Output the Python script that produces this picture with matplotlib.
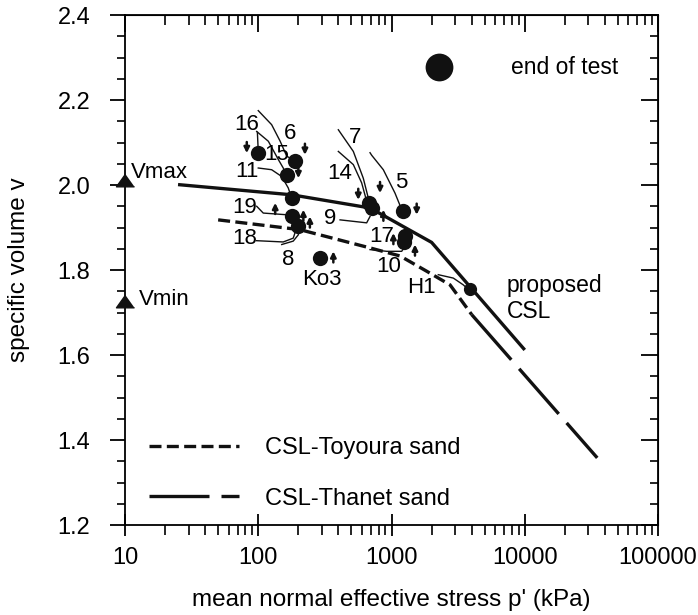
import numpy as np
import matplotlib.pyplot as plt
from matplotlib.lines import Line2D

plt.rcParams['font.family'] = ['Liberation Sans', 'DejaVu Sans']

# critical state lines (p' in kPa, specific volume v)
csl_p = [25, 178, 690, 2000, 10000]
csl_v = [2.001, 1.977, 1.946, 1.865, 1.612]

toyoura_p = [50, 205, 690, 1160, 1840, 2750, 4000]
toyoura_v = [1.918, 1.895, 1.852, 1.833, 1.797, 1.765, 1.695]

thanet_p = [4000, 35000]
thanet_v = [1.695, 1.358]

# end-of-test states
end_p = [100, 189, 163, 178, 178, 200, 291, 675, 715, 1227, 1262, 1250]
end_v = [2.075, 2.056, 2.023, 1.969, 1.926, 1.903, 1.828, 1.958, 1.945, 1.938, 1.881, 1.866]
h1_p, h1_v = 3880, 1.755

# Vmax / Vmin
lim_v = [2.011, 1.727]
lim_names = ['Vmax', 'Vmin']

# stress paths approaching the end states
p16 = [98.5, 100]
v16 = [2.124, 2.079]
p6 = [100, 126, 146, 163.5, 189]
v6 = [2.175, 2.142, 2.103, 2.068, 2.056]
p15 = [97.3, 119, 141.4, 154, 163.5]
v15 = [2.126, 2.103, 2.060, 2.040, 2.023]
p11 = [100, 126, 150, 168, 178]
v11 = [2.040, 2.036, 2.020, 1.993, 1.969]
p19 = [97.3, 109, 163.5, 178]
v19 = [1.950, 1.934, 1.930, 1.926]
p18 = [97.3, 154, 183, 194]
v18 = [1.869, 1.866, 1.875, 1.899]
p8 = [150, 183, 200, 203]
v8 = [1.860, 1.868, 1.883, 1.900]
p7 = [399, 517, 614, 670]
v7 = [2.130, 2.079, 2.016, 1.969]
p14 = [399, 517, 597, 651]
v14 = [2.079, 2.048, 2.005, 1.962]
p5 = [690, 710, 868, 1062, 1193]
v5 = [2.076, 2.070, 2.036, 1.981, 1.942]
p9 = [411, 651, 690]
v9 = [1.918, 1.911, 1.926]
p10 = [690, 921, 1193, 1262]
v10 = [1.848, 1.844, 1.844, 1.856]
pH1 = [2245, 2911, 3459, 3770]
vH1 = [1.789, 1.781, 1.765, 1.754]

# small arrows beside the end states (+1 up, -1 down)
arrow_p = [82, 224, 200, 134, 218, 244, 366, 563, 820, 869, 1545, 1033, 1500]
arrow_v = [2.075, 2.071, 2.016, 1.958, 1.942, 1.926, 1.844, 1.965, 1.981, 1.942, 1.930, 1.887, 1.860]
arrow_dir = [-1, -1, -1, 1, 1, 1, 1, -1, -1, 1, -1, 1, 1]

# test labels
label_text = ['16', '6', '15', '11', '19', '18', '8', 'Ko3', '7', '14', '5', '9', '17', '10', 'H1']
label_p = [82, 173, 137, 82, 79.6, 79.6, 168, 299, 532, 411, 1193, 346, 844, 946, 1685]
label_v = [2.142, 2.122, 2.071, 2.032, 1.946, 1.875, 1.824, 1.777, 2.111, 2.028, 2.005, 1.922, 1.879, 1.809, 1.758]

ink = '#111111'

fig = plt.figure(figsize=(6.98, 6.15), dpi=100)
ax = fig.add_axes([0.1791, 0.1463, 0.7636, 0.8293])

ax.plot(csl_p, csl_v, color=ink, lw=2.4, solid_capstyle='butt')
ax.plot(toyoura_p, toyoura_v, color=ink, lw=2.4, dashes=(3.6, 1.6))
ax.plot(thanet_p, thanet_v, color=ink, lw=2.4, dashes=(18, 3.6))

for pp, vv in [(p16, v16), (p6, v6), (p15, v15), (p11, v11), (p19, v19), (p18, v18),
               (p8, v8), (p7, v7), (p14, v14), (p5, v5), (p9, v9), (p10, v10), (pH1, vH1)]:
    ax.plot(pp, vv, color=ink, lw=1.0)

ax.plot(end_p, end_v, 'o', color=ink, ms=11, mec='none')
ax.plot([h1_p], [h1_v], 'o', color=ink, ms=9.5, mec='none')

tri = [(0, 0.7), (-1, -0.7), (1, -0.7)]
ax.plot([10] * len(lim_v), lim_v, ls='none', marker=tri, ms=13, color=ink, clip_on=False, zorder=5)
for v, name, dx, dy in zip(lim_v, lim_names, [4, 10], [6, 1]):
    ax.annotate(name, (10, v), xytext=(dx, dy), textcoords='offset points',
                fontsize=16, va='center', ha='left')

for x, y, d in zip(arrow_p, arrow_v, arrow_dir):
    ax.annotate('', xy=(x, y), xytext=(0, -d * 8), textcoords='offset points',
                arrowprops=dict(arrowstyle='-|>', lw=1.8, color=ink,
                                mutation_scale=8, shrinkA=0, shrinkB=0))

for t, x, y in zip(label_text, label_p, label_v):
    ax.text(x, y, t, fontsize=16, ha='center', va='center')

ax.text(7300, 1.733, 'proposed\nCSL', fontsize=16.5, ha='left', va='center', linespacing=1.2)

# end of test key
ax.plot([2290], [2.277], 'o', color=ink, ms=20, mec='none')
ax.text(7900, 2.277, 'end of test', fontsize=16.5, ha='left', va='center')

handles = [Line2D([], [], color=ink, lw=2.4, dashes=(3.6, 1.6)),
           Line2D([], [], color=ink, lw=2.4, dashes=(18, 3.6))]
ax.legend(handles, ['CSL-Toyoura sand', 'CSL-Thanet sand'], loc='lower left',
          bbox_to_anchor=(0.045, 0.03), frameon=False, fontsize=17, handlelength=3.8,
          handletextpad=1.1, labelspacing=1.2, borderpad=0, borderaxespad=0)

ax.set_xscale('log')
ax.set_xlim(10, 100000)
ax.set_ylim(1.2, 2.4)
ax.set_xticks([10, 100, 1000, 10000, 100000])
ax.set_xticklabels(['10', '100', '1000', '10000', '100000'])
ax.set_yticks(np.arange(1.2, 2.41, 0.2))
ax.set_yticklabels([f'{v:.1f}' for v in np.arange(1.2, 2.41, 0.2)])
ax.set_yticks(np.arange(1.2, 2.41, 0.05), minor=True)

for s in ax.spines.values():
    s.set_linewidth(1.3)

ax.tick_params(axis='x', which='major', direction='inout', length=16, width=1.3,
               labelsize=17, pad=8, top=False)
ax.tick_params(axis='x', which='minor', direction='out', length=7, width=1.2, top=False)
ax.tick_params(axis='y', which='major', direction='out', length=11, width=1.3,
               labelsize=17, pad=14, right=False)
ax.tick_params(axis='y', which='minor', direction='out', length=6, width=1.2, right=False)

top = ax.secondary_xaxis('top')
top.tick_params(axis='x', which='major', direction='in', length=12, width=1.3, labeltop=False)
top.tick_params(axis='x', which='minor', direction='in', length=7, width=1.2)
top.set_xticks([10, 100, 1000, 10000, 100000])

right = ax.secondary_yaxis('right')
right.set_yticks(np.arange(1.2, 2.41, 0.2))
right.set_yticks(np.arange(1.2, 2.41, 0.05), minor=True)
right.tick_params(axis='y', which='major', direction='in', length=12, width=1.3, labelright=False)
right.tick_params(axis='y', which='minor', direction='in', length=6, width=1.2)

ax.set_xlabel("mean normal effective stress p' (kPa)", fontsize=17.5)
ax.set_ylabel('specific volume v', fontsize=17.5)
ax.xaxis.set_label_coords(0.5, -0.125)
ax.yaxis.set_label_coords(-0.178, 0.5)

fig.savefig('out.png', dpi=100)
